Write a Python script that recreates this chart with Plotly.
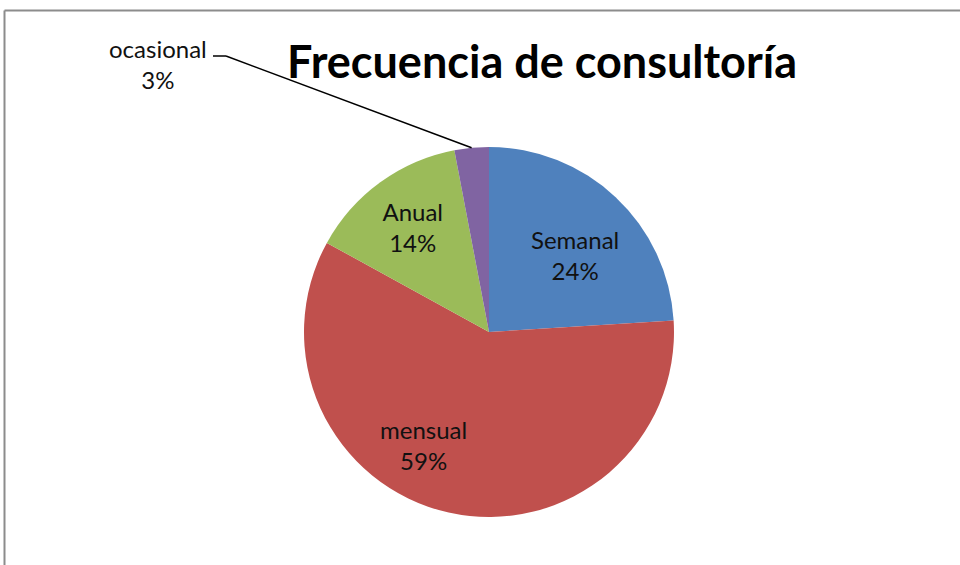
import numpy as np
import plotly.graph_objects as go

labels = ["Semanal", "mensual", "Anual", "ocasional"]
values = [24, 59, 14, 3]
colors = ["#4F81BD", "#C0504D", "#9BBB59", "#8064A2"]

W, H = 960, 565
cx, cy, r = 489, 332, 185  # pie centre / radius in pixels
FONT = "Lato"

fig = go.Figure()
fig.add_trace(go.Pie(
    labels=labels, values=values,
    marker=dict(colors=colors),
    sort=False, direction="clockwise", rotation=0,
    texttemplate="%{label}<br>%{percent:.0%}",
    textposition=["none", "none", "inside", "none"],
    insidetextorientation="horizontal",
    textfont=dict(family=FONT, size=24, color="#111111"),
    showlegend=False, hoverinfo="label+percent",
    domain=dict(x=[(cx - r) / W, (cx + r) / W],
                y=[(H - cy - r) / H, (H - cy + r) / H]),
))

tot = sum(values)

# Semanal and mensual labels sit off the slice bisector in the original
for i, (lx, ly) in [(0, (575, 255)), (1, (423, 445))]:
    fig.add_annotation(xref="paper", yref="paper", x=lx / W, y=1 - ly / H,
                       text=f"{labels[i]}<br>{values[i] / tot:.0%}", showarrow=False,
                       font=dict(family=FONT, size=24, color="#111111"),
                       xanchor="center", yanchor="middle")

# leader line for the small slice, anchored on the slice's outer edge
start = sum(values[:3]) / tot
mid = (start + values[3] / tot / 2) * 2 * np.pi
px_ = cx + r * np.sin(mid)
py_ = cy - r * np.cos(mid)
fig.add_shape(type="line", xref="paper", yref="paper",
              x0=213 / W, y0=1 - 56 / H, x1=226 / W, y1=1 - 56 / H,
              line=dict(color="black", width=1.5))
fig.add_shape(type="line", xref="paper", yref="paper",
              x0=226 / W, y0=1 - 56 / H, x1=px_ / W, y1=1 - py_ / H,
              line=dict(color="black", width=1.5))
fig.add_annotation(xref="paper", yref="paper", x=158 / W, y=1 - 64 / H,
                   text=f"{labels[3]}<br>{values[3] / tot:.0%}", showarrow=False,
                   font=dict(family=FONT, size=24, color="#111111"),
                   xanchor="center", yanchor="middle")

# chart frame (top and left edges visible)
fig.add_shape(type="line", xref="paper", yref="paper",
              x0=4.5 / W, y0=1 - 10.5 / H, x1=1, y1=1 - 10.5 / H,
              line=dict(color="#8c8c8c", width=2))
fig.add_shape(type="line", xref="paper", yref="paper",
              x0=4.5 / W, y0=1 - 10.5 / H, x1=4.5 / W, y1=0,
              line=dict(color="#8c8c8c", width=2))

fig.update_layout(
    title=dict(text="<b>Frecuencia de consultoría</b>",
               x=542 / W, xanchor="center", y=1 - 62 / H, yanchor="middle",
               font=dict(family=FONT, size=45, color="black")),
    width=W, height=H,
    margin=dict(l=0, r=0, t=0, b=0),
    paper_bgcolor="white",
)

fig.write_html("out.html", config={"displayModeBar": False},
               post_script="document.body.style.margin='0';")
